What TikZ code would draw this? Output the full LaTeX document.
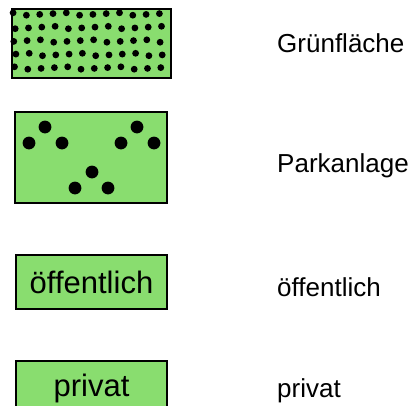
\documentclass[tikz,border=0pt]{standalone}
\usepackage{fontspec}
\setmainfont{Liberation Sans}
\usepackage{tikz}
\usetikzlibrary{positioning}

\definecolor{flaeche}{RGB}{137,221,111}

\begin{document}
\begin{tikzpicture}[
	x = 1pt, y = -1pt,
	legendbox/.style = {draw, line width = 1.8pt, fill = flaeche, inner sep = 0pt,
		font = \fontsize{31pt}{34pt}\selectfont},
	legendtext/.style = {anchor = base west, inner sep = 0pt,
		font = \fontsize{26pt}{30pt}\selectfont},
	punkt/.style = {fill = black}
	]
	\useasboundingbox (0,0) rectangle (411,405);
	\clip (0,0) rectangle (411,405);
	% Gruenflaeche
	\node[legendbox, minimum width = 159pt, minimum height = 69pt] (gruen) at (91.5,43.5) {};
	\foreach \r/\yy in {0/14, 1/27.5, 2/41, 3/54.5, 4/68} {
		\foreach \c in {0,...,11} {
			\fill[punkt] ({14.5 + 13.3*\c + 0.7*(mod(\c*5 + \r*3, 5) - 2)},
				{\yy + 0.8*(mod(\c*3 + \r*7, 4) - 1.5)}) circle (3.4);
		}
	}
	% Parkanlage
	\node[legendbox, minimum width = 152pt, minimum height = 91pt] (park) at (91,157.5) {};
	\foreach \px/\py in {29/143, 45/127, 62/143, 121/143, 137/127, 154/143, 92/172, 75/188, 108/188} {
		\fill[punkt] (\px,\py) circle (6.4);
	}
	% oeffentlich / privat
	\node[legendbox, minimum width = 151pt, minimum height = 54pt] (oeff) at (91.5,282) {öffentlich};
	\node[legendbox, minimum width = 151pt, minimum height = 54pt] (priv) at (91.5,388) {privat};
	% Beschriftung
	\node[legendtext] (tgruen) at (277,52) {Grünfläche};
	\node[legendtext] (tpark) at (277,172) {Parkanlage};
	\node[legendtext] (toeff) at (277,296) {öffentlich};
	\node[legendtext] (tpriv) at (277,397) {privat};
\end{tikzpicture}
\end{document}
